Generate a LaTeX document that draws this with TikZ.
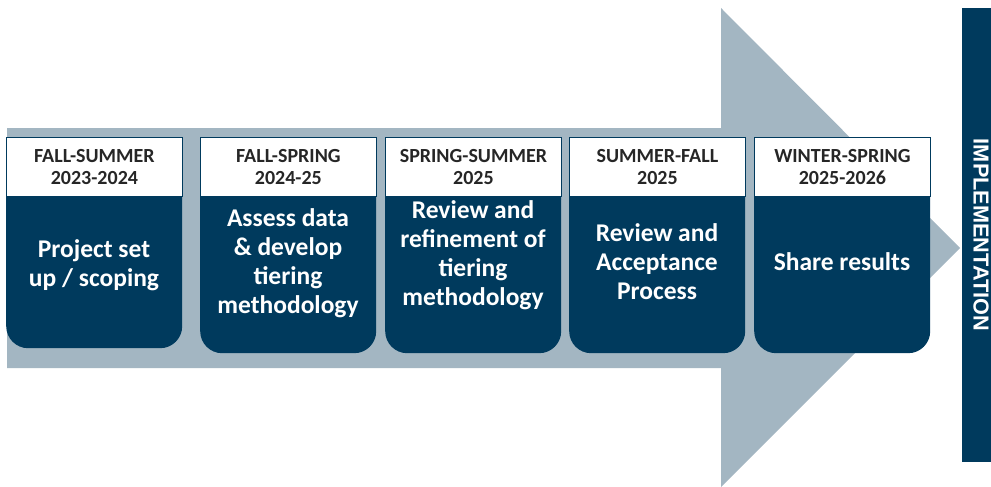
\documentclass[tikz,border=0pt]{standalone}
\usepackage{fontspec}
\setmainfont{Carlito}
\newfontfamily\arialfont{Liberation Sans}
\usepackage{tikz}
\usetikzlibrary{calc}
\tikzset{>=latex}
\definecolor{navy}{HTML}{003A5D}
\definecolor{arrowgrey}{HTML}{A3B6C2}
\definecolor{hdrtext}{HTML}{262626}

\begin{document}
\begin{tikzpicture}
[x=1pt, y=-1pt,
hdr/.style={draw=navy, line width=0.8pt, fill=white, text=hdrtext, minimum width=176pt, minimum height=59pt, inner sep=0pt, anchor=north west, align=center, font=\bfseries\fontsize{20}{22.5}\selectfont},
panel/.style={fill=navy, rounded corners=22pt, minimum width=176pt, inner sep=0pt, anchor=north west},
paneltext/.style={text=white, align=center, inner sep=0pt, font=\bfseries\fontsize{25.5}{29}\selectfont}]
\useasboundingbox (0,0) rectangle (991,487);
% big arrow behind the steps
\fill[arrowgrey] (7,128) -- (721,128) -- (721,8) -- (960,248) -- (721,487) -- (721,368) -- (7,368) -- cycle;
\node[fill=navy, rotate=-90, minimum width=454pt, minimum height=38pt, inner sep=0pt, text=white, font=\arialfont\bfseries\fontsize{21.7}{26}\selectfont] (impl) at (981,235) {IMPLEMENTATION};
% step bodies
\node[panel, minimum height=211pt] (p1) at (6,137) {};
\node[panel, minimum height=216pt] (p2) at (200,137) {};
\node[panel, minimum height=216pt] (p3) at (385,137) {};
\node[panel, minimum height=216pt] (p4) at (569,137) {};
\node[panel, minimum height=216pt] (p5) at (754,137) {};
% headers
\node[hdr] (h1) at (6,137) {FALL-SUMMER\\2023-2024};
\node[hdr] (h2) at (200,137) {FALL-SPRING\\2024-25};
\node[hdr] (h3) at (385,137) {SPRING-SUMMER\\2025};
\node[hdr] (h4) at (569,137) {SUMMER-FALL\\2025};
\node[hdr] (h5) at (754,137) {WINTER-SPRING\\2025-2026};
% texts
\node[paneltext] (t1) at (94,265) {Project set\\up / scoping};
\node[paneltext] (t2) at (288,263) {Assess data\\\& develop\\tiering\\methodology};
\node[paneltext] (t3) at (473,255) {Review and\\refinement of\\tiering\\methodology};
\node[paneltext] (t4) at (657,262) {Review and\\Acceptance\\Process};
\node[paneltext] (t5) at (842,262) {Share results};
\end{tikzpicture}
\end{document}
